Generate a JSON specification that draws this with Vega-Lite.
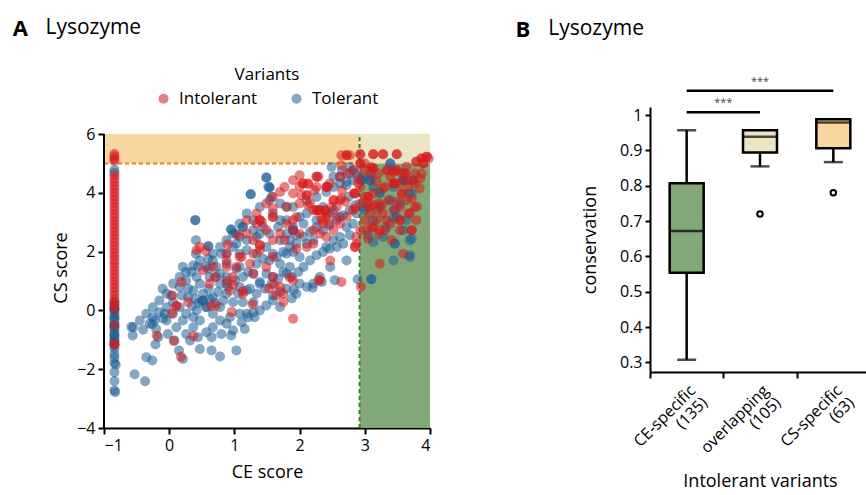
{
  "$schema": "https://vega.github.io/schema/vega-lite/v6.json",
  "background": "white",
  "padding": {"left": 12, "top": 17, "right": 0, "bottom": 5},
  "config": {
    "font": "Open Sans",
    "view": {"stroke": null},
    "axis": {"domainColor": "black", "domainWidth": 2, "tickColor": "black", "tickWidth": 2, "tickSize": 6, "labelFontSize": 16, "labelColor": "black", "titleFontSize": 18, "titleFontWeight": "normal", "titleColor": "black", "grid": false, "labelPadding": 3, "labelOverlap": false}
  },
  "datasets": {
    "tol": [
      {"x":-0.84,"y":4.78},{"x":-0.84,"y":4.68},{"x":-0.84,"y":0.3},{"x":-0.84,"y":0.2},{"x":-0.84,"y":0.1},{"x":-0.84,"y":0.0},{"x":-0.84,"y":-0.1},{"x":-0.84,"y":-0.2},{"x":-0.84,"y":-0.3},{"x":-0.84,"y":-0.4},{"x":-0.84,"y":-0.5},{"x":-0.84,"y":-0.6},{"x":-0.84,"y":-0.7},{"x":-0.84,"y":-0.8},{"x":-0.84,"y":-0.9},{"x":-0.84,"y":-1.0},{"x":-0.84,"y":-1.1},{"x":-0.84,"y":-1.2},{"x":-0.84,"y":-1.3},{"x":-0.84,"y":-0.25},{"x":-0.84,"y":-0.55},{"x":-0.84,"y":-0.85},{"x":-0.84,"y":-1.05},{"x":-0.84,"y":0.05},{"x":-0.84,"y":-1.5},{"x":-0.84,"y":-1.62},{"x":-0.84,"y":-1.8},{"x":-0.82,"y":-1.85},{"x":-0.84,"y":-2.1},{"x":-0.84,"y":-2.4},{"x":-0.84,"y":-2.72},{"x":-0.83,"y":-2.78},
      {"x":1.49,"y":4.52},{"x":1.49,"y":4.52},{"x":1.54,"y":4.18},{"x":1.54,"y":4.18},{"x":1.25,"y":3.95},{"x":1.25,"y":3.95},{"x":0.40,"y":3.07},{"x":0.40,"y":3.07},{"x":0.60,"y":2.18},{"x":0.60,"y":2.18},{"x":3.39,"y":5.0},{"x":3.39,"y":5.0},{"x":3.08,"y":4.43},{"x":3.08,"y":4.43},{"x":3.59,"y":4.43},
      {"x":0.41,"y":2.39},{"x":0.41,"y":1.93},{"x":0.60,"y":1.76},{"x":0.21,"y":1.48},{"x":-0.10,"y":0.74},{"x":0.03,"y":0.51},{"x":-0.55,"y":-0.57},{"x":-0.56,"y":-0.85},{"x":-0.40,"y":-0.66},{"x":-0.22,"y":-0.34},{"x":-0.07,"y":-0.11},{"x":-0.20,"y":-0.63},{"x":-0.21,"y":-1.16},{"x":0.08,"y":-1.02},{"x":0.15,"y":-1.36},{"x":-0.35,"y":-1.59},{"x":-0.26,"y":-1.70},{"x":0.21,"y":-1.65},{"x":0.47,"y":-1.31},{"x":0.65,"y":-1.36},{"x":0.78,"y":-1.57},{"x":1.03,"y":-1.36},{"x":0.95,"y":-0.85},{"x":1.16,"y":-0.63},{"x":0.65,"y":-0.91},{"x":1.31,"y":-0.23},{"x":1.29,"y":0.28},{"x":1.13,"y":0.28},{"x":0.98,"y":0.28},{"x":0.88,"y":0.57},{"x":0.52,"y":0.34},{"x":0.52,"y":0.34},{"x":0.29,"y":0.45},{"x":0.42,"y":0.0},{"x":0.26,"y":-0.11},{"x":0.21,"y":-0.34},{"x":0.37,"y":-0.23},{"x":0.57,"y":0.11},{"x":0.57,"y":0.11},{"x":0.78,"y":0.11},{"x":0.67,"y":-0.11},{"x":0.37,"y":0.68},{"x":0.47,"y":0.91},{"x":0.62,"y":1.14},{"x":0.78,"y":0.91},{"x":0.88,"y":1.14},{"x":0.72,"y":1.48},{"x":0.88,"y":1.59},{"x":1.03,"y":1.42},{"x":1.08,"y":1.93},{"x":1.19,"y":2.05},{"x":1.34,"y":1.93},{"x":1.49,"y":2.16},{"x":1.59,"y":1.93},{"x":1.70,"y":1.59},{"x":1.80,"y":1.93},{"x":1.90,"y":1.99},{"x":2.00,"y":1.82},{"x":2.11,"y":0.80},{"x":2.21,"y":0.91},{"x":2.34,"y":0.97},{"x":2.54,"y":1.03},{"x":2.89,"y":1.06},{"x":3.10,"y":1.06},{"x":3.10,"y":1.06},{"x":1.70,"y":0.63},{"x":1.95,"y":0.57},{"x":1.59,"y":0.34},{"x":1.39,"y":0.0},{"x":1.19,"y":-0.11},{"x":0.88,"y":-0.45},{"x":1.08,"y":1.48},{"x":1.29,"y":1.25},{"x":1.49,"y":1.25},{"x":1.59,"y":1.14},{"x":1.80,"y":1.25},{"x":1.85,"y":1.48},{"x":2.11,"y":2.27},{"x":2.21,"y":2.39},{"x":2.41,"y":2.16},{"x":2.52,"y":2.39},{"x":2.62,"y":2.50},{"x":2.72,"y":2.84},{"x":2.82,"y":2.95},{"x":2.85,"y":3.58},{"x":2.62,"y":3.18},{"x":2.52,"y":3.41},{"x":2.36,"y":3.52},{"x":2.26,"y":3.07},{"x":2.11,"y":3.30},{"x":2.00,"y":3.18},{"x":1.90,"y":2.84},{"x":1.80,"y":2.61},{"x":1.70,"y":3.07},{"x":1.59,"y":3.30},{"x":1.39,"y":3.52},{"x":1.29,"y":3.07},{"x":1.13,"y":2.84},{"x":1.13,"y":2.84},{"x":0.98,"y":2.61},{"x":0.88,"y":2.39},{"x":1.19,"y":3.30},{"x":1.08,"y":2.95},{"x":1.54,"y":3.75},{"x":1.70,"y":3.64},{"x":1.90,"y":3.52},{"x":2.11,"y":3.75},{"x":2.26,"y":3.86},{"x":2.41,"y":4.03},{"x":2.52,"y":4.20},{"x":2.62,"y":4.32},{"x":2.72,"y":4.38},{"x":2.82,"y":4.43},{"x":2.77,"y":4.66},{"x":2.95,"y":4.49},{"x":3.13,"y":4.20},{"x":3.23,"y":4.03},{"x":3.39,"y":3.75},{"x":3.54,"y":3.64},{"x":3.69,"y":3.98},{"x":3.74,"y":4.43},{"x":3.33,"y":2.84},{"x":3.46,"y":2.27},{"x":3.69,"y":1.82},{"x":3.72,"y":2.44},{"x":3.13,"y":3.07},{"x":2.98,"y":3.52},{"x":3.49,"y":3.18},{"x":3.44,"y":4.20},{"x":2.72,"y":1.70},{"x":2.47,"y":1.48},{"x":2.31,"y":1.14},{"x":1.39,"y":0.91},{"x":1.24,"y":0.74},{"x":1.08,"y":0.80},{"x":0.72,"y":1.14},{"x":0.88,"y":0.91},{"x":0.57,"y":1.48},{"x":0.47,"y":1.70},{"x":0.67,"y":1.93},{"x":0.88,"y":1.93},{"x":0.78,"y":2.16},{"x":1.03,"y":2.27},{"x":1.19,"y":2.39},{"x":1.34,"y":2.50},{"x":1.29,"y":2.73},{"x":1.44,"y":2.84},{"x":1.54,"y":2.61},{"x":1.70,"y":2.39},{"x":1.85,"y":2.39},{"x":1.95,"y":2.56},{"x":0.42,"y":1.14},{"x":0.26,"y":1.02},{"x":0.16,"y":0.80},{"x":0.06,"y":0.91},{"x":-0.04,"y":0.57},{"x":-0.15,"y":0.34},{"x":-0.25,"y":0.11},{"x":-0.35,"y":-0.11},{"x":-0.45,"y":-0.34},{"x":0.16,"y":0.11},{"x":0.06,"y":-0.11},{"x":-0.04,"y":-0.34},{"x":0.11,"y":-0.57},{"x":0.26,"y":-0.80},{"x":0.37,"y":-0.57},{"x":0.47,"y":-0.34},{"x":0.67,"y":-0.57},{"x":0.78,"y":-0.34},{"x":0.93,"y":-0.23},{"x":1.08,"y":-0.11},{"x":-0.53,"y":-2.17},{"x":-0.37,"y":-2.41},{"x":-0.58,"y":-0.56},{"x":-0.26,"y":-0.47},{"x":-0.09,"y":-0.27},{"x":1.70,"y":0.12},{"x":1.88,"y":0.41},{"x":2.20,"y":0.77},{"x":1.91,"y":0.70},{"x":0.45,"y":0.25},{"x":0.62,"y":0.40},{"x":0.35,"y":0.15},
      {"x":0.34,"y":1.31},{"x":0.44,"y":1.48},{"x":0.52,"y":0.57},{"x":0.60,"y":0.74},{"x":0.67,"y":0.45},{"x":0.75,"y":0.63},{"x":0.83,"y":0.34},{"x":0.90,"y":0.80},{"x":1.01,"y":1.02},{"x":1.13,"y":1.14},{"x":1.21,"y":1.31},{"x":1.06,"y":0.57},{"x":1.19,"y":0.68},{"x":1.34,"y":0.57},{"x":1.47,"y":0.74},{"x":1.57,"y":0.91},{"x":1.67,"y":1.08},{"x":1.75,"y":1.31},{"x":1.88,"y":1.14},{"x":1.98,"y":1.31},{"x":2.06,"y":1.48},{"x":2.16,"y":1.70},{"x":2.26,"y":1.88},{"x":2.36,"y":1.99},{"x":2.46,"y":2.10},{"x":2.57,"y":2.16},{"x":2.67,"y":2.27},{"x":2.77,"y":2.56},{"x":1.34,"y":1.59},{"x":1.44,"y":1.76},{"x":1.54,"y":1.70},{"x":1.65,"y":1.82},{"x":1.75,"y":1.99},{"x":1.85,"y":2.16},{"x":1.95,"y":2.27},{"x":2.06,"y":2.50},{"x":2.16,"y":2.67},{"x":2.26,"y":2.84},{"x":2.36,"y":2.73},{"x":2.46,"y":2.90},{"x":2.57,"y":3.07},{"x":2.67,"y":3.24},{"x":2.77,"y":3.41},{"x":2.87,"y":3.30},{"x":2.46,"y":3.30},{"x":2.06,"y":2.95},{"x":1.80,"y":3.07},{"x":1.67,"y":2.84},{"x":1.39,"y":2.61},{"x":1.08,"y":2.50},{"x":0.98,"y":2.16},{"x":0.80,"y":1.93},{"x":0.67,"y":1.70},{"x":0.78,"y":1.25},{"x":0.60,"y":1.42},{"x":0.37,"y":1.53},{"x":0.26,"y":1.31},{"x":0.16,"y":1.14},{"x":0.29,"y":0.74},{"x":0.19,"y":0.51},{"x":0.06,"y":0.28},{"x":-0.04,"y":0.11},{"x":-0.15,"y":-0.06},{"x":-0.25,"y":-0.23},{"x":-0.30,"y":-0.45},{"x":-0.17,"y":-0.91},{"x":-0.02,"y":-0.80},{"x":0.32,"y":-1.02},{"x":0.44,"y":-0.91},{"x":0.57,"y":-0.74},{"x":0.80,"y":-0.80},{"x":0.98,"y":-0.68},{"x":1.11,"y":-0.40},{"x":1.21,"y":-0.23},{"x":1.29,"y":-0.06},{"x":1.49,"y":0.17},{"x":1.59,"y":0.51},{"x":1.80,"y":0.74},{"x":2.00,"y":0.91},{"x":1.39,"y":0.97},{"x":3.05,"y":2.56},{"x":3.13,"y":2.33},{"x":3.28,"y":2.50},{"x":3.59,"y":2.73},{"x":3.44,"y":1.70},{"x":3.64,"y":3.07},{"x":3.23,"y":3.52},{"x":2.77,"y":4.89},{"x":2.87,"y":4.66},{"x":2.52,"y":4.55},
      {"x":2.95,"y":4.43},{"x":2.95,"y":4.43},{"x":3.59,"y":4.43},{"x":3.10,"y":4.55},{"x":3.23,"y":3.98},{"x":3.46,"y":3.41},{"x":3.72,"y":3.98},{"x":3.69,"y":2.39},{"x":3.69,"y":1.88},{"x":3.46,"y":2.27},{"x":3.44,"y":3.13},{"x":3.0,"y":3.41},{"x":2.75,"y":3.87},{"x":2.62,"y":4.55},{"x":2.49,"y":4.88},{"x":2.65,"y":4.77},{"x":2.83,"y":4.77},{"x":2.72,"y":4.26},{"x":1.52,"y":4.21},{"x":1.57,"y":3.87},{"x":1.80,"y":3.53},{"x":1.90,"y":2.73},{"x":1.90,"y":2.73},{"x":0.95,"y":2.75},{"x":0.95,"y":2.75},{"x":1.02,"y":2.62},{"x":0.50,"y":0.30},{"x":0.70,"y":0.25},{"x":0.40,"y":0.40}
    ],
    "intol": [
      {"x":-0.84,"y":5.32},{"x":-0.84,"y":5.24},{"x":-0.84,"y":5.16},{"x":-0.84,"y":5.08},{"x":-0.84,"y":4.6},{"x":-0.84,"y":4.48},{"x":-0.84,"y":4.36},{"x":-0.84,"y":4.24},{"x":-0.84,"y":4.12},{"x":-0.84,"y":4.0},{"x":-0.84,"y":3.88},{"x":-0.84,"y":3.76},{"x":-0.84,"y":3.64},{"x":-0.84,"y":3.52},{"x":-0.84,"y":3.4},{"x":-0.84,"y":3.28},{"x":-0.84,"y":3.16},{"x":-0.84,"y":3.04},{"x":-0.84,"y":2.92},{"x":-0.84,"y":2.8},{"x":-0.84,"y":2.68},{"x":-0.84,"y":2.56},{"x":-0.84,"y":2.44},{"x":-0.84,"y":2.32},{"x":-0.84,"y":2.2},{"x":-0.84,"y":2.08},{"x":-0.84,"y":1.96},{"x":-0.84,"y":1.84},{"x":-0.84,"y":1.72},{"x":-0.84,"y":1.6},{"x":-0.84,"y":1.48},{"x":-0.84,"y":1.36},{"x":-0.84,"y":1.24},{"x":-0.84,"y":1.12},{"x":-0.84,"y":1.0},{"x":-0.84,"y":0.88},{"x":-0.84,"y":0.76},{"x":-0.84,"y":0.64},{"x":-0.84,"y":0.52},{"x":-0.84,"y":0.4},{"x":-0.84,"y":0.28},{"x":-0.84,"y":0.16},{"x":-0.84,"y":0.04},{"x":-0.84,"y":-0.5},{"x":-0.84,"y":-1.15},{"x":-0.84,"y":-1.15},
      {"x":-0.19,"y":-0.85},{"x":0.07,"y":-1.04},{"x":0.18,"y":-1.58},{"x":0.37,"y":-0.87},{"x":0.96,"y":-0.05},{"x":1.28,"y":0.2},{"x":1.13,"y":0.65},{"x":0.98,"y":0.86},{"x":0.88,"y":1.0},{"x":0.70,"y":1.14},{"x":1.90,"y":-0.28},{"x":2.64,"y":0.97},{"x":2.94,"y":0.80},{"x":2.29,"y":1.03},{"x":1.75,"y":0.29},{"x":1.64,"y":0.52},{"x":1.53,"y":0.75},{"x":1.61,"y":0.87},{"x":1.85,"y":1.12},{"x":0.11,"y":0.15},{"x":0.11,"y":0.15},{"x":0.04,"y":-0.1},{"x":0.64,"y":0.15},{"x":0.19,"y":0.97},{"x":0.05,"y":0.51},
      {"x":0.56,"y":2.02},{"x":0.42,"y":2.05},{"x":0.90,"y":2.25},{"x":1.06,"y":2.56},{"x":0.88,"y":1.93},{"x":1.03,"y":1.48},{"x":1.11,"y":1.82},{"x":1.39,"y":3.07},{"x":1.39,"y":3.07},{"x":1.42,"y":3.01},{"x":1.59,"y":3.18},{"x":1.59,"y":3.18},{"x":1.39,"y":2.22},{"x":1.39,"y":2.22},{"x":1.49,"y":1.48},{"x":1.59,"y":1.82},{"x":1.70,"y":2.61},{"x":1.77,"y":2.39},{"x":1.95,"y":2.10},{"x":2.11,"y":2.16},{"x":2.21,"y":2.73},{"x":2.31,"y":2.61},{"x":2.36,"y":2.95},{"x":2.41,"y":3.18},{"x":2.49,"y":3.52},{"x":2.57,"y":3.52},{"x":2.62,"y":3.75},{"x":2.05,"y":4.32},{"x":2.05,"y":4.32},{"x":2.13,"y":4.30},{"x":2.26,"y":4.55},{"x":2.26,"y":4.55},{"x":2.41,"y":4.20},{"x":2.41,"y":4.20},{"x":2.11,"y":3.92},{"x":2.11,"y":3.92},{"x":2.16,"y":3.64},{"x":2.26,"y":3.41},{"x":2.26,"y":3.41},{"x":2.31,"y":3.41},{"x":2.39,"y":3.41},{"x":2.39,"y":3.41},{"x":2.36,"y":3.07},{"x":2.21,"y":3.41},{"x":2.52,"y":3.75},{"x":2.52,"y":3.75},{"x":2.64,"y":3.81},{"x":2.85,"y":3.98},{"x":2.85,"y":3.98},{"x":2.93,"y":4.20},{"x":3.05,"y":3.86},{"x":3.05,"y":3.86},{"x":3.13,"y":3.58},{"x":3.21,"y":3.64},{"x":3.34,"y":4.77},{"x":3.34,"y":4.77},{"x":3.39,"y":4.55},{"x":3.49,"y":4.77},{"x":3.49,"y":4.77},{"x":3.62,"y":4.66},{"x":3.62,"y":4.66},{"x":3.64,"y":4.89},{"x":3.44,"y":4.32},{"x":3.44,"y":4.32},{"x":3.54,"y":4.32},{"x":3.74,"y":4.43},{"x":2.93,"y":5.0},{"x":2.93,"y":5.0},{"x":3.00,"y":5.0},{"x":3.13,"y":4.83},{"x":3.13,"y":4.83},{"x":2.72,"y":5.28},{"x":2.72,"y":5.28},{"x":2.77,"y":5.28},{"x":2.93,"y":5.31},{"x":2.93,"y":5.31},{"x":3.13,"y":5.31},{"x":3.13,"y":5.31},{"x":3.28,"y":5.31},{"x":3.28,"y":5.31},{"x":3.49,"y":5.31},{"x":3.49,"y":5.31},{"x":3.87,"y":5.17},{"x":3.87,"y":5.17},{"x":3.95,"y":5.23},{"x":3.95,"y":5.23},{"x":3.79,"y":5.06},{"x":3.79,"y":5.06},{"x":3.90,"y":5.0},{"x":2.64,"y":4.94},{"x":2.64,"y":5.28},{"x":3.08,"y":3.30},{"x":3.18,"y":3.07},{"x":3.13,"y":2.84},{"x":3.23,"y":2.73},{"x":3.33,"y":3.07},{"x":3.44,"y":3.41},{"x":3.54,"y":3.52},{"x":3.64,"y":3.75},{"x":3.77,"y":3.52},{"x":3.54,"y":3.07},{"x":3.72,"y":2.73},{"x":3.23,"y":1.59},{"x":3.36,"y":3.75},{"x":3.05,"y":3.64},{"x":2.87,"y":2.27},{"x":2.85,"y":2.16},{"x":2.31,"y":1.02},{"x":2.47,"y":1.70},{"x":1.90,"y":1.02},{"x":1.59,"y":1.14},{"x":1.70,"y":0.80},{"x":1.75,"y":0.57},{"x":1.24,"y":1.59},{"x":1.29,"y":1.93},{"x":0.93,"y":0.68},{"x":1.13,"y":0.57},{"x":0.62,"y":0.91},{"x":0.52,"y":1.37},{"x":0.88,"y":1.48},{"x":1.29,"y":2.39},{"x":1.90,"y":3.07},{"x":2.00,"y":3.64},{"x":1.80,"y":3.52},{"x":1.95,"y":3.18},{"x":1.19,"y":3.07},{"x":1.34,"y":3.30},{"x":1.49,"y":3.64},{"x":1.59,"y":3.47},
      {"x":1.59,"y":3.86},{"x":1.70,"y":4.03},{"x":1.77,"y":4.20},{"x":1.90,"y":4.43},{"x":2.00,"y":4.60},{"x":1.90,"y":3.98},{"x":2.26,"y":4.20},{"x":2.46,"y":4.32},{"x":2.62,"y":4.55},{"x":2.72,"y":4.66},{"x":2.82,"y":4.77},{"x":2.90,"y":4.49},{"x":3.08,"y":4.66},{"x":3.18,"y":4.38},{"x":3.28,"y":4.15},{"x":3.57,"y":3.98},{"x":3.67,"y":4.20},{"x":3.77,"y":4.32},{"x":3.85,"y":4.49},{"x":3.13,"y":3.98},{"x":2.93,"y":3.64},{"x":2.82,"y":3.41},{"x":2.72,"y":3.18},{"x":2.62,"y":2.95},{"x":2.52,"y":2.73},{"x":2.41,"y":2.50},{"x":2.21,"y":2.27},{"x":2.00,"y":2.61},{"x":1.90,"y":2.73},{"x":1.80,"y":2.95},{"x":1.49,"y":2.73},{"x":1.34,"y":2.95},{"x":1.19,"y":2.61},{"x":1.39,"y":2.05},{"x":1.59,"y":2.39},{"x":1.08,"y":1.82},{"x":0.88,"y":1.70},{"x":0.67,"y":1.48},{"x":0.47,"y":2.16},{"x":0.29,"y":0.28},{"x":0.72,"y":0.17},{"x":0.98,"y":1.14},{"x":1.29,"y":1.25},{"x":3.03,"y":2.73},{"x":3.39,"y":2.95},{"x":3.54,"y":2.73},{"x":3.28,"y":3.30},{"x":3.69,"y":3.30},{"x":3.79,"y":3.07},{"x":3.59,"y":1.93},
      {"x":2.13,"y":4.32},{"x":2.29,"y":4.55},{"x":2.43,"y":4.21},{"x":2.65,"y":4.09},{"x":2.83,"y":3.98},{"x":3.0,"y":3.87},{"x":2.90,"y":4.32},{"x":3.0,"y":4.77},{"x":3.10,"y":4.88},{"x":3.21,"y":4.66},{"x":3.44,"y":4.72},{"x":3.57,"y":4.66},{"x":3.65,"y":4.43},{"x":3.77,"y":4.66},{"x":3.90,"y":5.0},{"x":3.98,"y":5.17},{"x":3.87,"y":4.66},{"x":3.47,"y":4.32},{"x":3.31,"y":4.21},{"x":3.57,"y":3.98},{"x":3.72,"y":3.81},{"x":3.84,"y":4.15},{"x":3.06,"y":3.53},{"x":3.19,"y":3.41},{"x":2.85,"y":3.47},{"x":2.70,"y":3.70},{"x":2.57,"y":3.18},{"x":2.42,"y":3.30},{"x":2.29,"y":3.41},{"x":2.13,"y":3.58},{"x":2.0,"y":4.21},{"x":2.03,"y":3.92},{"x":2.23,"y":4.09},{"x":2.33,"y":3.13},{"x":2.46,"y":2.96},
      {"x":3.0,"y":3.07},{"x":3.10,"y":2.84},{"x":3.21,"y":2.61},{"x":3.31,"y":2.73},{"x":3.41,"y":2.39},{"x":3.54,"y":3.07},{"x":3.67,"y":3.30},{"x":3.80,"y":3.53},{"x":3.72,"y":2.73},{"x":3.49,"y":3.70},{"x":3.26,"y":3.58},{"x":2.93,"y":2.73},{"x":3.05,"y":2.44},{"x":2.85,"y":2.16},{"x":2.87,"y":2.50}
    ],
    "boxes": [
      {"cat":"CE-specific (135)","lower":0.308,"q1":0.554,"median":0.672,"q3":0.807,"upper":0.957},
      {"cat":"overlapping (105)","lower":0.855,"q1":0.894,"median":0.939,"q3":0.957,"upper":0.957},
      {"cat":"CS-specific (63)","lower":0.867,"q1":0.906,"median":0.979,"q3":0.988,"upper":0.988}
    ],
    "outliers": [
      {"cat":"overlapping (105)","v":0.72},
      {"cat":"CS-specific (63)","v":0.78}
    ],
    "sig": [
      {"from":"CE-specific (135)","to":"overlapping (105)","y":1.008},
      {"from":"CE-specific (135)","to":"CS-specific (63)","y":1.069}
    ]
  },
  "spacing": 81,
  "resolve": {"scale": {"color": "independent", "fill": "independent"}},
  "hconcat": [
    {
      "width": 326,
      "height": 321,
      "title": {"text": "A", "subtitle": "\u200b\u00a0\u00a0\u00a0\u00a0\u00a0\u00a0Lysozyme", "anchor": "start", "frame": "bounds", "dx": -40, "offset": 25, "fontSize": 22, "fontWeight": "bold", "color": "black", "subtitleFontSize": 21, "subtitleFontWeight": "normal", "subtitleColor": "black", "subtitlePadding": -24},
      "layer": [
        {
          "data": {"values": [{"x1": -1, "x2": 2.92, "y1": 5, "y2": 6}]},
          "mark": {"type": "rect", "color": "#f8d8a0"},
          "encoding": {
            "x": {"field": "x1", "type": "quantitative", "scale": {"domain": [-1, 4], "nice": false}, "axis": {"values": [-1, 0, 1, 2, 3, 4], "format": "~g", "title": "CE score", "titlePadding": 10}},
            "x2": {"field": "x2"},
            "y": {"field": "y1", "type": "quantitative", "scale": {"domain": [-4, 6.919], "nice": false, "zero": false}, "axis": {"values": [-4, -2, 0, 2, 4, 6], "format": "~g", "domain": false, "title": "CS score", "titlePadding": 6}},
            "y2": {"field": "y2"}
          }
        },
        {
          "data": {"values": [{"x1": 2.92, "x2": 4, "y1": 5, "y2": 6}]},
          "mark": {"type": "rect", "color": "#ece5c3"},
          "encoding": {"x": {"field": "x1", "type": "quantitative"}, "x2": {"field": "x2"}, "y": {"field": "y1", "type": "quantitative"}, "y2": {"field": "y2"}}
        },
        {
          "data": {"values": [{"x1": 2.92, "x2": 4, "y1": -4, "y2": 5}]},
          "mark": {"type": "rect", "color": "#82a878"},
          "encoding": {"x": {"field": "x1", "type": "quantitative"}, "x2": {"field": "x2"}, "y": {"field": "y1", "type": "quantitative"}, "y2": {"field": "y2"}}
        },
        {
          "data": {"values": [{"x1": -1, "x2": 2.92, "y": 5}]},
          "mark": {"type": "rule", "color": "#ee7d22", "strokeWidth": 2, "strokeDash": [4, 3]},
          "encoding": {"x": {"field": "x1", "type": "quantitative"}, "x2": {"field": "x2"}, "y": {"field": "y", "type": "quantitative"}}
        },
        {
          "data": {"values": [{"x": 2.92, "y1": -4, "y2": 6}]},
          "mark": {"type": "rule", "color": "#3d7a2e", "strokeWidth": 2, "strokeDash": [4, 3]},
          "encoding": {"x": {"field": "x", "type": "quantitative"}, "y": {"field": "y1", "type": "quantitative"}, "y2": {"field": "y2"}}
        },
        {
          "data": {"values": [{"x": -1, "y1": -4, "y2": 6}]},
          "mark": {"type": "rule", "color": "black", "strokeWidth": 2},
          "encoding": {"x": {"field": "x", "type": "quantitative"}, "y": {"field": "y1", "type": "quantitative"}, "y2": {"field": "y2"}}
        },
        {
          "data": {"name": "tol"},
          "mark": {"type": "circle", "size": 100, "opacity": 0.55},
          "encoding": {
            "x": {"field": "x", "type": "quantitative"},
            "y": {"field": "y", "type": "quantitative"},
            "color": {"datum": "Tolerant", "type": "nominal", "scale": {"domain": ["Intolerant", "Tolerant"], "range": ["#d7191c", "#1f5f96"]},
              "legend": {"title": "Variants", "orient": "none", "legendX": 51, "legendY": -40, "direction": "horizontal", "titleOrient": "top", "titleAnchor": "middle", "titleFontSize": 17, "titleFontWeight": "normal", "titleColor": "black", "labelFontSize": 17, "labelColor": "black", "symbolOpacity": 0.5, "symbolSize": 100, "symbolType": "circle", "columnPadding": 30, "labelOffset": 7, "titlePadding": 6}}
          }
        },
        {
          "data": {"name": "intol"},
          "mark": {"type": "circle", "size": 100, "opacity": 0.55},
          "encoding": {
            "x": {"field": "x", "type": "quantitative"},
            "y": {"field": "y", "type": "quantitative"},
            "color": {"datum": "Intolerant", "type": "nominal"}
          }
        }
      ]
    },
    {
      "width": 220,
      "height": 265,
      "title": {"text": "B", "subtitle": "\u200b\u00a0\u00a0\u00a0\u00a0\u00a0\u00a0Lysozyme", "anchor": "start", "frame": "bounds", "dx": -66, "offset": 33, "fontSize": 22, "fontWeight": "bold", "color": "black", "subtitleFontSize": 21, "subtitleFontWeight": "normal", "subtitleColor": "black", "subtitlePadding": -24},
      "layer": [
        {
          "data": {"name": "boxes"},
          "mark": {"type": "rule", "color": "black", "strokeWidth": 2.5},
          "encoding": {
            "x": {"field": "cat", "type": "nominal", "scale": {"domain": ["CE-specific (135)", "overlapping (105)", "CS-specific (63)"], "paddingInner": 0, "paddingOuter": 0},
              "axis": {"title": "Intolerant variants", "labelAngle": -45, "labelAlign": "right", "labelBaseline": "top", "labelExpr": "split(datum.label, ' ')", "tickBand": "extent", "labelPadding": 4, "titlePadding": 5, "labelLineHeight": 17}},
            "y": {"field": "lower", "type": "quantitative", "scale": {"domain": [0.273, 1.023], "nice": false, "zero": false},
              "axis": {"values": [0.3, 0.4, 0.5, 0.6, 0.7, 0.8, 0.9, 1], "tickCount": 8, "labelOverlap": false, "labelSeparation": 0, "format": ".1~f", "title": "conservation", "tickSize": 5, "titlePadding": 20}},
            "y2": {"field": "upper"}
          }
        },
        {
          "data": {"name": "boxes"},
          "mark": {"type": "tick", "color": "black", "size": 19, "thickness": 2.5},
          "encoding": {"x": {"field": "cat", "type": "nominal"}, "y": {"field": "upper", "type": "quantitative"}}
        },
        {
          "data": {"name": "boxes"},
          "mark": {"type": "tick", "color": "black", "size": 19, "thickness": 2.5},
          "encoding": {"x": {"field": "cat", "type": "nominal"}, "y": {"field": "lower", "type": "quantitative"}}
        },
        {
          "data": {"name": "boxes"},
          "mark": {"type": "bar", "size": 34, "stroke": "black", "strokeWidth": 2.5},
          "encoding": {
            "x": {"field": "cat", "type": "nominal"},
            "y": {"field": "q1", "type": "quantitative"},
            "y2": {"field": "q3"},
            "fill": {"field": "cat", "type": "nominal", "scale": {"domain": ["CE-specific (135)", "overlapping (105)", "CS-specific (63)"], "range": ["#82a878", "#ece5c3", "#f8d8a0"]}, "legend": null}
          }
        },
        {
          "data": {"name": "boxes"},
          "mark": {"type": "tick", "color": "black", "size": 34, "thickness": 2.5},
          "encoding": {"x": {"field": "cat", "type": "nominal"}, "y": {"field": "median", "type": "quantitative"}}
        },
        {
          "data": {"name": "outliers"},
          "mark": {"type": "point", "shape": "circle", "filled": false, "color": "black", "strokeWidth": 2, "size": 30, "opacity": 1},
          "encoding": {"x": {"field": "cat", "type": "nominal"}, "y": {"field": "v", "type": "quantitative"}}
        },
        {
          "data": {"name": "sig"},
          "mark": {"type": "rule", "color": "black", "strokeWidth": 2.5, "clip": false},
          "encoding": {
            "x": {"field": "from", "type": "nominal", "bandPosition": 0.5},
            "x2": {"field": "to", "bandPosition": 0.5},
            "y": {"field": "y", "type": "quantitative"}
          }
        },
        {
          "data": {"values": [{"cat": "overlapping (105)", "y": 1.034, "t": "***"}]},
          "mark": {"type": "text", "color": "#444", "fontSize": 11, "baseline": "middle", "clip": false},
          "encoding": {"x": {"field": "cat", "type": "nominal", "bandPosition": 0}, "y": {"field": "y", "type": "quantitative"}, "text": {"field": "t"}}
        },
        {
          "data": {"values": [{"cat": "overlapping (105)", "y": 1.094, "t": "***"}]},
          "mark": {"type": "text", "color": "#444", "fontSize": 11, "baseline": "middle", "clip": false},
          "encoding": {"x": {"field": "cat", "type": "nominal", "bandPosition": 0.5}, "y": {"field": "y", "type": "quantitative"}, "text": {"field": "t"}}
        }
      ]
    }
  ]
}
